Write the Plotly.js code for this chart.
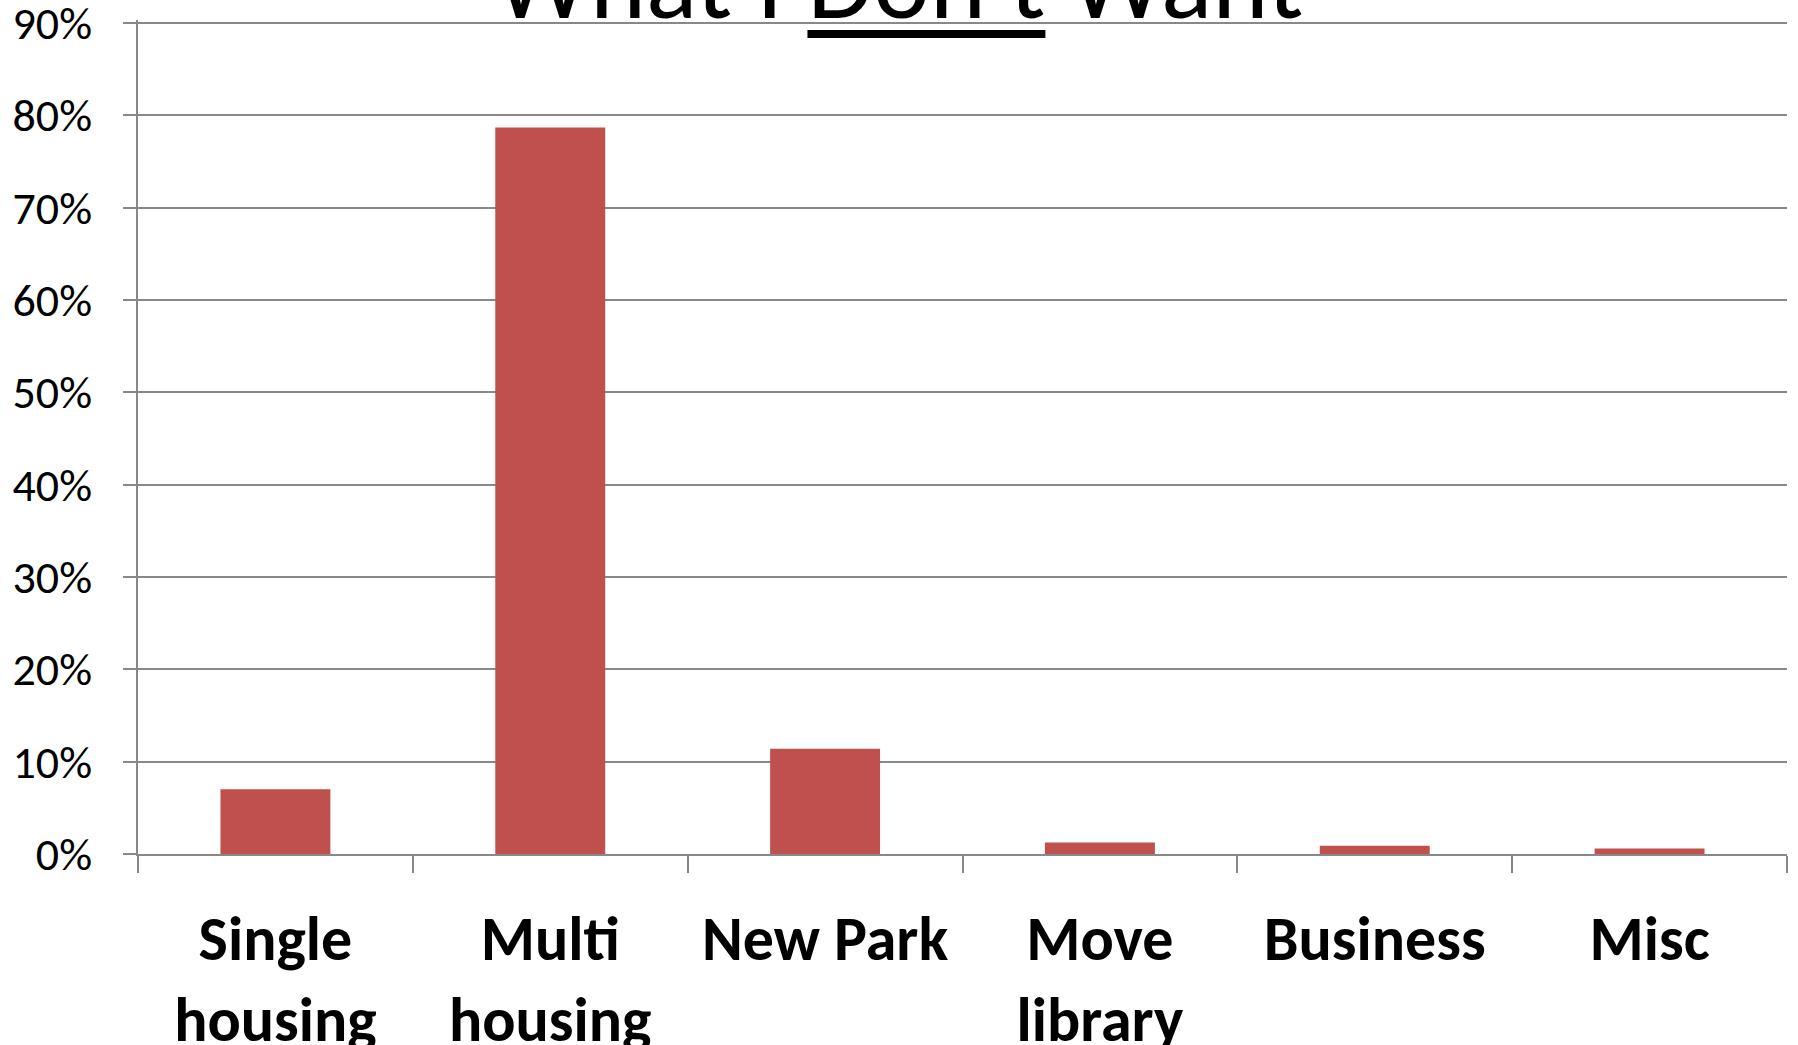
<!DOCTYPE html>
<html>
<head>
<meta charset="utf-8">
<script src="https://cdn.plot.ly/plotly-3.0.1.min.js"></script>
<style>
html, body { margin: 0; padding: 0; background: #ffffff; }
#chart { width: 1798px; height: 1045px; }
</style>
</head>
<body>
<div id="chart"></div>
<script>
var categories = ["Single<br>housing", "Multi<br>housing", "New Park", "Move<br>library", "Business", "Misc"];
var shares = [0.070, 0.787, 0.114, 0.0125, 0.009, 0.006];
var yTickValues = [0, 0.1, 0.2, 0.3, 0.4, 0.5, 0.6, 0.7, 0.8, 0.9];
var titleText = "What I Don't Want";
var underlinedWord = "Don't";

var fontFamily = "Carlito, Calibri, Lato, 'Open Sans', sans-serif";

var trace = {
  type: "bar",
  x: categories,
  y: shares,
  marker: { color: "#C0504D", line: { width: 0 } },
  hoverinfo: "x+y"
};

var layout = {
  width: 1798,
  height: 1045,
  paper_bgcolor: "#ffffff",
  plot_bgcolor: "#ffffff",
  margin: { l: 138, r: 11, t: 20, b: 191, pad: 0 },
  showlegend: false,
  bargap: 0.6,
  title: {
    text: titleText,
    font: { family: fontFamily, size: 107, color: "#000000" },
    x: 0.5,
    xanchor: "center",
    xref: "container",
    y: 1 - 18 / 1045,
    yanchor: "bottom",
    yref: "container"
  },
  xaxis: {
    type: "category",
    tickson: "boundaries",
    ticks: "outside",
    ticklen: 17,
    tickwidth: 1.5,
    tickcolor: "#888888",
    showline: true,
    linecolor: "#888888",
    linewidth: 1.5,
    showgrid: false,
    zeroline: false,
    ticklabelstandoff: 30,
    ticklabeloverflow: "allow",
    tickfont: { family: fontFamily, size: 62, color: "#000000", weight: "bold" },
    fixedrange: true
  },
  yaxis: {
    range: [0, 0.9033],
    tickvals: yTickValues,
    tickformat: ".0%",
    ticks: "outside",
    ticklen: 13,
    tickwidth: 1.5,
    tickcolor: "#888888",
    showline: true,
    linecolor: "#888888",
    linewidth: 1.5,
    showgrid: true,
    gridcolor: "#888888",
    gridwidth: 1.5,
    zeroline: false,
    ticklabelstandoff: 22,
    ticklabeloverflow: "allow",
    tickfont: { family: fontFamily, size: 46, color: "#000000" },
    fixedrange: true
  }
};

Plotly.newPlot("chart", [trace], layout, { displayModeBar: false, responsive: false }).then(function (gd) {
  // underline the emphasised word of the title, measured from the rendered text
  var t = gd.querySelector(".gtitle");
  if (!t) return;
  var start = titleText.indexOf(underlinedWord);
  var end = start + underlinedWord.length - 1;
  var svg = t.ownerSVGElement;
  var m = t.getScreenCTM();
  var origin = gd.getBoundingClientRect();
  var p0 = svg.createSVGPoint();
  var s = t.getStartPositionOfChar(start);
  p0.x = s.x; p0.y = s.y;
  var p1 = svg.createSVGPoint();
  var e = t.getEndPositionOfChar(end);
  p1.x = e.x; p1.y = e.y;
  var a = p0.matrixTransform(m);
  var b = p1.matrixTransform(m);
  var sz = gd._fullLayout._size;
  var fs = layout.title.font.size;
  var yPix = a.y - origin.top + 0.15 * fs;
  var x0 = (a.x - origin.left - sz.l) / sz.w;
  var x1 = (b.x - origin.left - sz.l) / sz.w;
  var yP = 1 - (yPix - sz.t) / sz.h;
  Plotly.relayout(gd, {
    shapes: [{
      type: "line", xref: "paper", yref: "paper",
      x0: x0, x1: x1, y0: yP, y1: yP,
      line: { color: "#000000", width: 8 },
      layer: "above"
    }]
  });
});
</script>
</body>
</html>
